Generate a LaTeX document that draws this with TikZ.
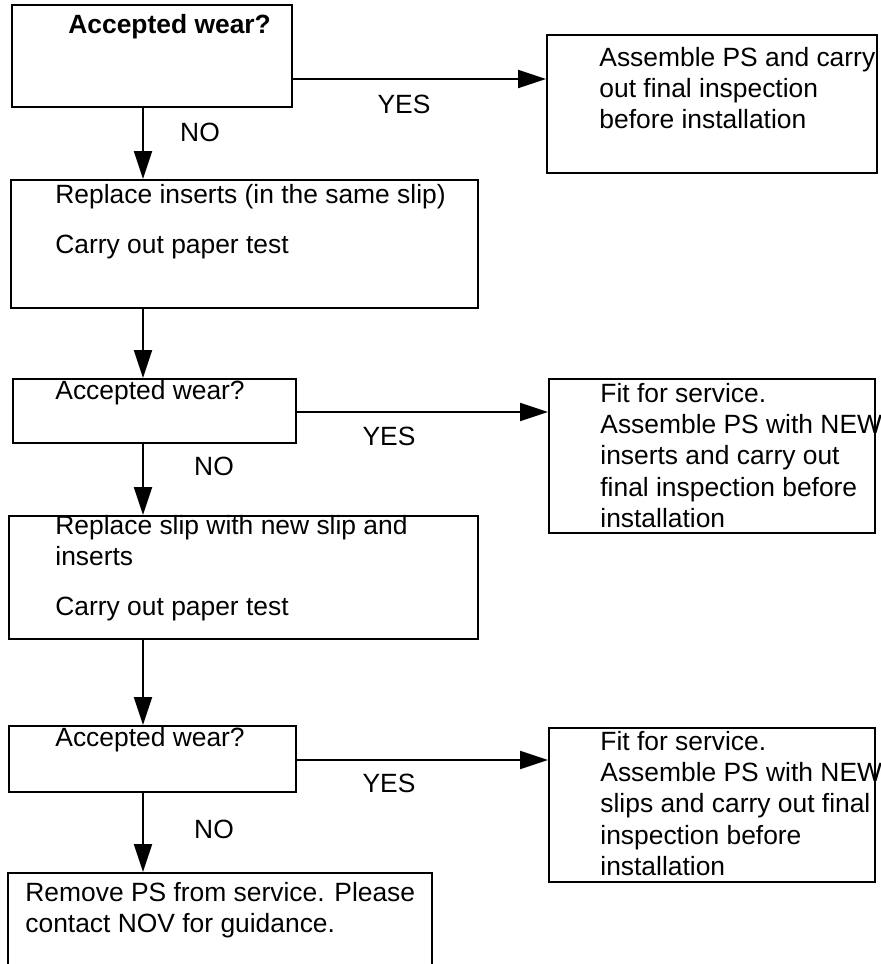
\documentclass[tikz,border=0pt]{standalone}
\usepackage{fontspec}
\setmainfont{Liberation Sans}
\usetikzlibrary{arrows.meta,fit}

\begin{document}
\begin{tikzpicture}[x=0.5pt,y=-0.5pt,
    font=\fontsize{13.2}{15.6}\selectfont,
    box/.style={draw,line width=1pt,inner sep=0pt},
    txt/.style={anchor=north west,inner sep=0pt,align=left},
    arr/.style={line width=1pt,-{Triangle[length=14pt,width=9pt]}}]

    \clip (0,0) rectangle (880,964);

    % cajas de la izquierda
    \node[box,fit={(12,5) (292,107)}] (accA) {};
    \node[box,fit={(11,180) (478,308)}] (repA) {};
    \node[box,fit={(13,379) (296,443)}] (accB) {};
    \node[box,fit={(9,516) (478,639)}] (repB) {};
    \node[box,fit={(9,726) (296,792)}] (accC) {};
    \node[box,fit={(8,873) (432,1000)}] (remove) {};

    % cajas de la derecha
    \node[box,fit={(547,35) (877,173)}] (okA) {};
    \node[box,fit={(549,379) (875,533)}] (okB) {};
    \node[box,fit={(549,728) (875,882)}] (okC) {};

    % textos
    \node[txt] (accAt) at (68,14) {\textbf{Accepted wear?}};
    \node[txt] (repAt) at (55,184) {Replace inserts (in the same slip)\\[9.5pt]
        Carry out paper test};
    \node[txt] (accBt) at (55,380) {Accepted wear?};
    \node[txt] (repBt) at (55,515) {Replace slip with new slip and\\inserts\\[9.5pt]
        Carry out paper test};
    \node[txt] (accCt) at (55,727) {Accepted wear?};
    \node[txt] (removet) at (25,882) {Remove PS from service. Please\\contact NOV for guidance.};
    \node[txt] (okAt) at (599,47) {Assemble PS and carry\\out final inspection\\before installation};
    \node[txt] (okBt) at (600,383) {Fit for service.\\Assemble PS with NEW\\inserts and carry out\\final inspection before\\installation};
    \node[txt] (okCt) at (600,731) {Fit for service.\\Assemble PS with NEW\\slips and carry out final\\inspection before\\installation};

    % flechas NO
    \coordinate (stem) at (143,0);
    \draw[arr] (accA.south -| stem) -- (repA.north -| stem);
    \draw[arr] (repA.south -| stem) -- (accB.north -| stem);
    \draw[arr] (accB.south -| stem) -- (repB.north -| stem);
    \draw[arr] (repB.south -| stem) -- (accC.north -| stem);
    \draw[arr] (accC.south -| stem) -- (remove.north -| stem);

    % flechas YES
    \coordinate (yA) at (0,79);
    \coordinate (yB) at (0,412);
    \coordinate (yC) at (0,760);
    \draw[arr] (accA.east |- yA) -- (okA.west |- yA);
    \draw[arr] (accB.east |- yB) -- (okB.west |- yB);
    \draw[arr] (accC.east |- yC) -- (okC.west |- yC);

    %leyendas
    \node (yesA) at (404,104) {YES};
    \node (noA) at (200,132) {NO};
    \node (yesB) at (389,436) {YES};
    \node (noB) at (214,466) {NO};
    \node (yesC) at (389,783) {YES};
    \node (noC) at (214,829) {NO};

\end{tikzpicture}
\end{document}
